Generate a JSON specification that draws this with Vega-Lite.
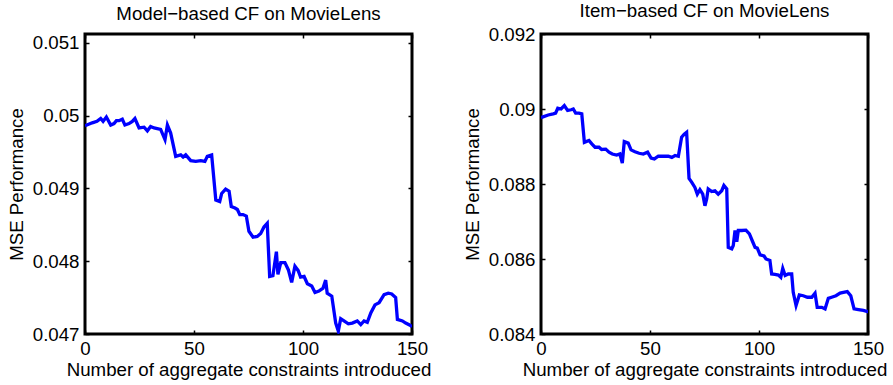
{
  "$schema": "https://vega.github.io/schema/vega-lite/v6.json",
  "padding": {"left": 5, "top": 0, "right": 0, "bottom": 0},
  "background": "white",
  "datasets": {
    "model_based": [
      {"constraints": 0, "mse": 0.04986}, {"constraints": 3.3, "mse": 0.0499}, {"constraints": 5.5, "mse": 0.04992},
      {"constraints": 7.2, "mse": 0.04996}, {"constraints": 8.3, "mse": 0.04992}, {"constraints": 9.8, "mse": 0.04998},
      {"constraints": 11.8, "mse": 0.04987}, {"constraints": 13.3, "mse": 0.04989}, {"constraints": 14.4, "mse": 0.04993},
      {"constraints": 15.6, "mse": 0.04993}, {"constraints": 17.1, "mse": 0.04995}, {"constraints": 18.3, "mse": 0.04987},
      {"constraints": 20.2, "mse": 0.04989}, {"constraints": 21.7, "mse": 0.04992}, {"constraints": 22.9, "mse": 0.04996},
      {"constraints": 24.8, "mse": 0.04983}, {"constraints": 27.1, "mse": 0.04984}, {"constraints": 28.6, "mse": 0.04979},
      {"constraints": 30.1, "mse": 0.04985}, {"constraints": 31.7, "mse": 0.04983}, {"constraints": 34.7, "mse": 0.04981},
      {"constraints": 36.7, "mse": 0.04967}, {"constraints": 37.8, "mse": 0.04987}, {"constraints": 39.3, "mse": 0.04976},
      {"constraints": 41.6, "mse": 0.04944}, {"constraints": 43.9, "mse": 0.04946}, {"constraints": 45.0, "mse": 0.04943},
      {"constraints": 46.2, "mse": 0.04946}, {"constraints": 48.5, "mse": 0.04938}, {"constraints": 50.8, "mse": 0.04937},
      {"constraints": 53.1, "mse": 0.04938}, {"constraints": 55.0, "mse": 0.04937}, {"constraints": 56.1, "mse": 0.04944},
      {"constraints": 58.1, "mse": 0.04946}, {"constraints": 60.0, "mse": 0.04884}, {"constraints": 61.8, "mse": 0.04882},
      {"constraints": 62.7, "mse": 0.04893}, {"constraints": 64.5, "mse": 0.04899}, {"constraints": 66.1, "mse": 0.04896},
      {"constraints": 67.1, "mse": 0.04875}, {"constraints": 68.8, "mse": 0.04873}, {"constraints": 69.9, "mse": 0.04871},
      {"constraints": 71.0, "mse": 0.04864}, {"constraints": 72.5, "mse": 0.04864}, {"constraints": 74.0, "mse": 0.04862},
      {"constraints": 75.2, "mse": 0.04841}, {"constraints": 77.1, "mse": 0.04833}, {"constraints": 79.0, "mse": 0.04834},
      {"constraints": 80.6, "mse": 0.04838}, {"constraints": 82.1, "mse": 0.04847}, {"constraints": 83.6, "mse": 0.04852},
      {"constraints": 84.7, "mse": 0.04779}, {"constraints": 86.2, "mse": 0.0478}, {"constraints": 87.8, "mse": 0.04813},
      {"constraints": 88.5, "mse": 0.04782}, {"constraints": 89.8, "mse": 0.04798}, {"constraints": 91.7, "mse": 0.04798},
      {"constraints": 93.3, "mse": 0.04788}, {"constraints": 94.8, "mse": 0.04771}, {"constraints": 96.3, "mse": 0.04793},
      {"constraints": 97.8, "mse": 0.04787}, {"constraints": 98.9, "mse": 0.04778}, {"constraints": 100.5, "mse": 0.04779},
      {"constraints": 102.0, "mse": 0.04769}, {"constraints": 104.0, "mse": 0.04766}, {"constraints": 105.5, "mse": 0.04757},
      {"constraints": 107.3, "mse": 0.04759}, {"constraints": 109.2, "mse": 0.04763}, {"constraints": 110.4, "mse": 0.04774},
      {"constraints": 111.1, "mse": 0.04756}, {"constraints": 113.2, "mse": 0.04752}, {"constraints": 115.0, "mse": 0.04715},
      {"constraints": 116.2, "mse": 0.04704}, {"constraints": 117.3, "mse": 0.04721}, {"constraints": 118.8, "mse": 0.04718},
      {"constraints": 120.8, "mse": 0.04714}, {"constraints": 122.6, "mse": 0.04715}, {"constraints": 124.9, "mse": 0.04718},
      {"constraints": 126.5, "mse": 0.04713}, {"constraints": 128.0, "mse": 0.04718}, {"constraints": 129.5, "mse": 0.04716},
      {"constraints": 131.1, "mse": 0.04729}, {"constraints": 133.0, "mse": 0.0474}, {"constraints": 134.9, "mse": 0.04743},
      {"constraints": 137.2, "mse": 0.04754}, {"constraints": 139.1, "mse": 0.04756}, {"constraints": 140.7, "mse": 0.04755},
      {"constraints": 142.5, "mse": 0.0475}, {"constraints": 143.3, "mse": 0.0472}, {"constraints": 145.6, "mse": 0.04718},
      {"constraints": 147.1, "mse": 0.04715}, {"constraints": 149.1, "mse": 0.04712}, {"constraints": 150, "mse": 0.0471}
    ],
    "item_based": [
      {"constraints": 0, "mse": 0.08977}, {"constraints": 3.3, "mse": 0.08984}, {"constraints": 5.6, "mse": 0.08987},
      {"constraints": 6.7, "mse": 0.08989}, {"constraints": 7.7, "mse": 0.09002}, {"constraints": 9.2, "mse": 0.09},
      {"constraints": 10.7, "mse": 0.09009}, {"constraints": 12.2, "mse": 0.08996}, {"constraints": 13.8, "mse": 0.08998},
      {"constraints": 14.8, "mse": 0.09}, {"constraints": 15.9, "mse": 0.08989}, {"constraints": 17.4, "mse": 0.08989},
      {"constraints": 18.7, "mse": 0.08987}, {"constraints": 19.9, "mse": 0.08911}, {"constraints": 22.0, "mse": 0.08916},
      {"constraints": 23.3, "mse": 0.08907}, {"constraints": 24.8, "mse": 0.08898}, {"constraints": 26.6, "mse": 0.08898},
      {"constraints": 27.8, "mse": 0.08892}, {"constraints": 29.7, "mse": 0.08893}, {"constraints": 31.2, "mse": 0.08885},
      {"constraints": 32.7, "mse": 0.0888}, {"constraints": 34.7, "mse": 0.08877}, {"constraints": 36.2, "mse": 0.0888},
      {"constraints": 37.3, "mse": 0.08856}, {"constraints": 38.2, "mse": 0.08913}, {"constraints": 40.0, "mse": 0.08909},
      {"constraints": 41.3, "mse": 0.08891}, {"constraints": 43.1, "mse": 0.08886}, {"constraints": 45.0, "mse": 0.08882},
      {"constraints": 46.9, "mse": 0.0888}, {"constraints": 48.9, "mse": 0.08885}, {"constraints": 50.5, "mse": 0.08869},
      {"constraints": 52.0, "mse": 0.08867}, {"constraints": 53.8, "mse": 0.08874}, {"constraints": 56.1, "mse": 0.08874},
      {"constraints": 58.4, "mse": 0.08874}, {"constraints": 60.0, "mse": 0.08871}, {"constraints": 61.5, "mse": 0.08876},
      {"constraints": 63.0, "mse": 0.08874}, {"constraints": 64.5, "mse": 0.08925}, {"constraints": 65.7, "mse": 0.08933},
      {"constraints": 66.8, "mse": 0.08938}, {"constraints": 67.9, "mse": 0.08815}, {"constraints": 69.1, "mse": 0.08805},
      {"constraints": 70.6, "mse": 0.08791}, {"constraints": 71.7, "mse": 0.08773}, {"constraints": 72.9, "mse": 0.08785},
      {"constraints": 74.2, "mse": 0.08773}, {"constraints": 75.2, "mse": 0.08742}, {"constraints": 76.0, "mse": 0.0876},
      {"constraints": 76.7, "mse": 0.08787}, {"constraints": 78.3, "mse": 0.0878}, {"constraints": 79.8, "mse": 0.08782},
      {"constraints": 81.3, "mse": 0.08773}, {"constraints": 82.9, "mse": 0.08782}, {"constraints": 83.9, "mse": 0.08796},
      {"constraints": 85.2, "mse": 0.08787}, {"constraints": 85.9, "mse": 0.08631}, {"constraints": 87.5, "mse": 0.08627},
      {"constraints": 88.2, "mse": 0.08636}, {"constraints": 89.0, "mse": 0.08676}, {"constraints": 89.8, "mse": 0.08646},
      {"constraints": 90.5, "mse": 0.08676}, {"constraints": 92.1, "mse": 0.08676}, {"constraints": 94.0, "mse": 0.08677},
      {"constraints": 95.6, "mse": 0.08667}, {"constraints": 97.1, "mse": 0.08646}, {"constraints": 98.2, "mse": 0.08631},
      {"constraints": 99.2, "mse": 0.08629}, {"constraints": 100.5, "mse": 0.08611}, {"constraints": 102.3, "mse": 0.08608},
      {"constraints": 103.2, "mse": 0.086}, {"constraints": 105.0, "mse": 0.08596}, {"constraints": 105.8, "mse": 0.0856},
      {"constraints": 107.3, "mse": 0.08559}, {"constraints": 108.9, "mse": 0.08557}, {"constraints": 110.0, "mse": 0.08551},
      {"constraints": 110.9, "mse": 0.08575}, {"constraints": 112.0, "mse": 0.08556}, {"constraints": 113.4, "mse": 0.0856},
      {"constraints": 115.0, "mse": 0.0856}, {"constraints": 115.7, "mse": 0.08511}, {"constraints": 117.0, "mse": 0.08476},
      {"constraints": 118.5, "mse": 0.08504}, {"constraints": 120.3, "mse": 0.08502}, {"constraints": 122.2, "mse": 0.08498},
      {"constraints": 124.2, "mse": 0.08498}, {"constraints": 125.7, "mse": 0.08509}, {"constraints": 126.7, "mse": 0.08471},
      {"constraints": 128.8, "mse": 0.08471}, {"constraints": 130.3, "mse": 0.08467}, {"constraints": 131.8, "mse": 0.08495},
      {"constraints": 133.3, "mse": 0.08498}, {"constraints": 135.3, "mse": 0.08502}, {"constraints": 137.2, "mse": 0.08509},
      {"constraints": 138.7, "mse": 0.08511}, {"constraints": 140.5, "mse": 0.08513}, {"constraints": 142.1, "mse": 0.08502},
      {"constraints": 143.6, "mse": 0.08467}, {"constraints": 145.6, "mse": 0.08465}, {"constraints": 147.9, "mse": 0.08463},
      {"constraints": 149.7, "mse": 0.0846}, {"constraints": 150, "mse": 0.0846}
    ]
  },
  "hconcat": [
    {
      "width": 327,
      "height": 300,
      "title": {"text": "Model−based CF on MovieLens", "offset": 10},
      "data": {"name": "model_based"},
      "layer": [
        {
          "mark": {"type": "line", "color": "#0000ff", "strokeWidth": 3.3, "clip": true},
          "encoding": {
            "x": {"field": "constraints", "type": "quantitative",
                  "scale": {"domain": [0, 150], "nice": false},
                  "axis": {"orient": "bottom", "values": [0, 50, 100, 150], "title": "Number of aggregate constraints introduced"}},
            "y": {"field": "mse", "type": "quantitative",
                  "scale": {"domain": [0.047, 0.05112], "nice": false, "zero": false},
                  "axis": {"orient": "left", "values": [0.047, 0.048, 0.049, 0.05, 0.051], "format": ".3~f", "title": "MSE Performance"}}
          }
        },
        {
          "mark": {"type": "line", "strokeOpacity": 0},
          "encoding": {
            "x": {"field": "constraints", "type": "quantitative",
                  "axis": {"orient": "top", "values": [0, 50, 100, 150], "labels": false, "title": null, "minExtent": 0}},
            "y": {"field": "mse", "type": "quantitative",
                  "axis": {"orient": "right", "values": [0.047, 0.048, 0.049, 0.05, 0.051], "labels": false, "title": null, "minExtent": 0}}
          }
        }
      ],
      "resolve": {"axis": {"x": "independent", "y": "independent"}}
    },
    {
      "width": 327,
      "height": 300,
      "title": {"text": "Item−based CF on MovieLens", "offset": 4},
      "data": {"name": "item_based"},
      "layer": [
        {
          "mark": {"type": "line", "color": "#0000ff", "strokeWidth": 3.3, "clip": true},
          "encoding": {
            "x": {"field": "constraints", "type": "quantitative",
                  "scale": {"domain": [0, 150], "nice": false},
                  "axis": {"orient": "bottom", "values": [0, 50, 100, 150], "title": "Number of aggregate constraints introduced"}},
            "y": {"field": "mse", "type": "quantitative",
                  "scale": {"domain": [0.084, 0.092], "nice": false, "zero": false},
                  "axis": {"orient": "left", "values": [0.084, 0.086, 0.088, 0.09, 0.092], "format": ".3~f", "title": "MSE Performance"}}
          }
        },
        {
          "mark": {"type": "line", "strokeOpacity": 0},
          "encoding": {
            "x": {"field": "constraints", "type": "quantitative",
                  "axis": {"orient": "top", "values": [0, 50, 100, 150], "labels": false, "title": null, "minExtent": 0}},
            "y": {"field": "mse", "type": "quantitative",
                  "axis": {"orient": "right", "values": [0.084, 0.086, 0.088, 0.09, 0.092], "labels": false, "title": null, "minExtent": 0}}
          }
        }
      ],
      "resolve": {"axis": {"x": "independent", "y": "independent"}}
    }
  ],
  "config": {
    "font": "Liberation Sans",
    "view": {"stroke": "black", "strokeWidth": 3},
    "concat": {"spacing": 28},
    "axis": {
      "domain": false,
      "grid": false,
      "ticks": true,
      "tickColor": "black",
      "tickSize": -4,
      "tickWidth": 1.5,
      "labelFont": "Liberation Sans",
      "labelFontSize": 18.7,
      "labelColor": "black",
      "labelFlush": false,
      "labelOverlap": false,
      "titleFont": "Liberation Sans",
      "titleFontSize": 18.7,
      "titleFontWeight": "normal",
      "titleColor": "black"
    },
    "axisX": {"labelPadding": 9, "titlePadding": 3},
    "axisY": {"labelPadding": 10, "titlePadding": 6},
    "title": {"font": "Liberation Sans", "fontSize": 18.7, "fontWeight": "normal", "color": "black", "frame": "group", "anchor": "middle"}
  }
}
